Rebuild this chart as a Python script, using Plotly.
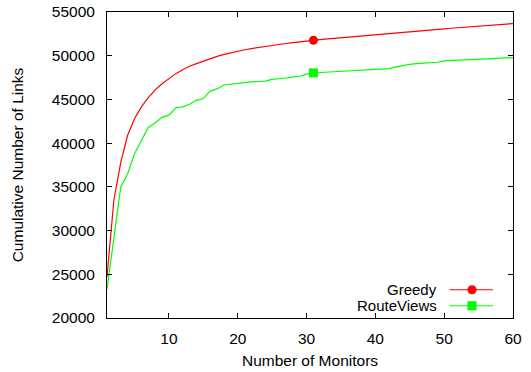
import plotly.graph_objects as go

monitors = list(range(1, 61))
greedy = [24700, 33500, 37800, 40900, 42800, 44150, 45200, 46100, 46800, 47400,
          47950, 48400, 48800, 49100, 49400, 49680, 49930, 50150, 50350, 50520,
          50680, 50820, 50950, 51070, 51190, 51300, 51400, 51500, 51600, 51690,
          51770, 51845, 51919, 51993, 52066, 52138, 52210, 52281, 52351, 52421,
          52490, 52558, 52626, 52693, 52759, 52825, 52890, 52954, 53018, 53081,
          53143, 53205, 53266, 53326, 53386, 53445, 53503, 53561, 53618, 53675]
routeviews = [23300, 29300, 35000, 36500, 38800, 40300, 41800, 42300, 42950, 43200,
              44050, 44150, 44450, 44900, 45100, 45950, 46200, 46650, 46750, 46880,
              46950, 47000, 47050, 47100, 47300, 47350, 47450, 47550, 47650, 47900,
              48040, 48080, 48120, 48150, 48180, 48210, 48250, 48320, 48380, 48420,
              48460, 48520, 48720, 48880, 49000, 49100, 49150, 49200, 49250, 49400,
              49460, 49490, 49520, 49550, 49580, 49620, 49680, 49740, 49770, 49790]
mark_index = 30
x_ticks = [10, 20, 30, 40, 50, 60]
y_ticks = [20000, 25000, 30000, 35000, 40000, 45000, 50000, 55000]
series_names = ["Greedy", "RouteViews"]

RED = "#ff0000"
GREEN = "#00ff00"
FONT = "Liberation Sans, Arial, Helvetica, sans-serif"

fig = go.Figure()
fig.add_trace(go.Scatter(x=monitors, y=greedy, mode="lines",
                         line=dict(color=RED, width=1.2), showlegend=False))
fig.add_trace(go.Scatter(x=monitors, y=routeviews, mode="lines",
                         line=dict(color=GREEN, width=1.2), showlegend=False))
fig.add_trace(go.Scatter(x=[monitors[mark_index]], y=[greedy[mark_index]], mode="markers",
                         marker=dict(color=RED, size=9, symbol="circle", line=dict(width=0)),
                         showlegend=False))
fig.add_trace(go.Scatter(x=[monitors[mark_index]], y=[routeviews[mark_index]], mode="markers",
                         marker=dict(color=GREEN, size=9, symbol="square", line=dict(width=0)),
                         showlegend=False))

# manual gnuplot-style legend (text left, sample right)
legend_y = [0.0923, 0.0401]
colors = [RED, GREEN]
annotations = []
shapes = []
for name, ly, col in zip(series_names, legend_y, colors):
    annotations.append(dict(x=0.816, y=ly, xref="paper", yref="paper", text=name,
                            showarrow=False, xanchor="right", yanchor="middle",
                            borderpad=0,
                            font=dict(size=15, color="black", family=FONT)))
    shapes.append(dict(type="line", xref="paper", yref="paper", x0=0.8438, x1=0.9507,
                       y0=ly, y1=ly, line=dict(color=col, width=1.2)))
    kind = "circle" if col == RED else "rect"
    shapes.append(dict(type=kind, xref="paper", yref="paper", xsizemode="pixel",
                       ysizemode="pixel", xanchor=0.899, yanchor=ly,
                       x0=-4.6, x1=4.6, y0=-4.6, y1=4.6,
                       fillcolor=col, line=dict(width=0)))

fig.update_layout(
    width=531, height=372,
    margin=dict(l=107, r=18, t=12, b=54, autoexpand=False),
    paper_bgcolor="white", plot_bgcolor="white",
    font=dict(family=FONT, size=15.5, color="black"),
    showlegend=False,
    annotations=annotations,
    shapes=shapes,
)
fig.update_xaxes(range=[1, 60], tickvals=x_ticks, ticktext=[str(v) for v in x_ticks],
                 ticks="inside", ticklen=5, automargin=False,
                 tickcolor="black", showline=True, linecolor="black", linewidth=1,
                 mirror="ticks", showgrid=False, zeroline=False,
                 ticklabelstandoff=6,
                 title=dict(text="Number of Monitors", font=dict(size=15.5), standoff=9))
fig.update_yaxes(range=[20000, 55000], tickvals=y_ticks, ticktext=[str(v) for v in y_ticks],
                 ticks="inside", ticklen=5, automargin=False,
                 tickcolor="black", showline=True, linecolor="black", linewidth=1,
                 mirror="ticks", showgrid=False, zeroline=False,
                 ticklabelstandoff=8,
                 title=dict(text="Cumulative Number of Links", font=dict(size=15.5), standoff=24))

fig.write_html("out.html", config={"displayModeBar": False},
               post_script="document.body.style.margin='0';")
